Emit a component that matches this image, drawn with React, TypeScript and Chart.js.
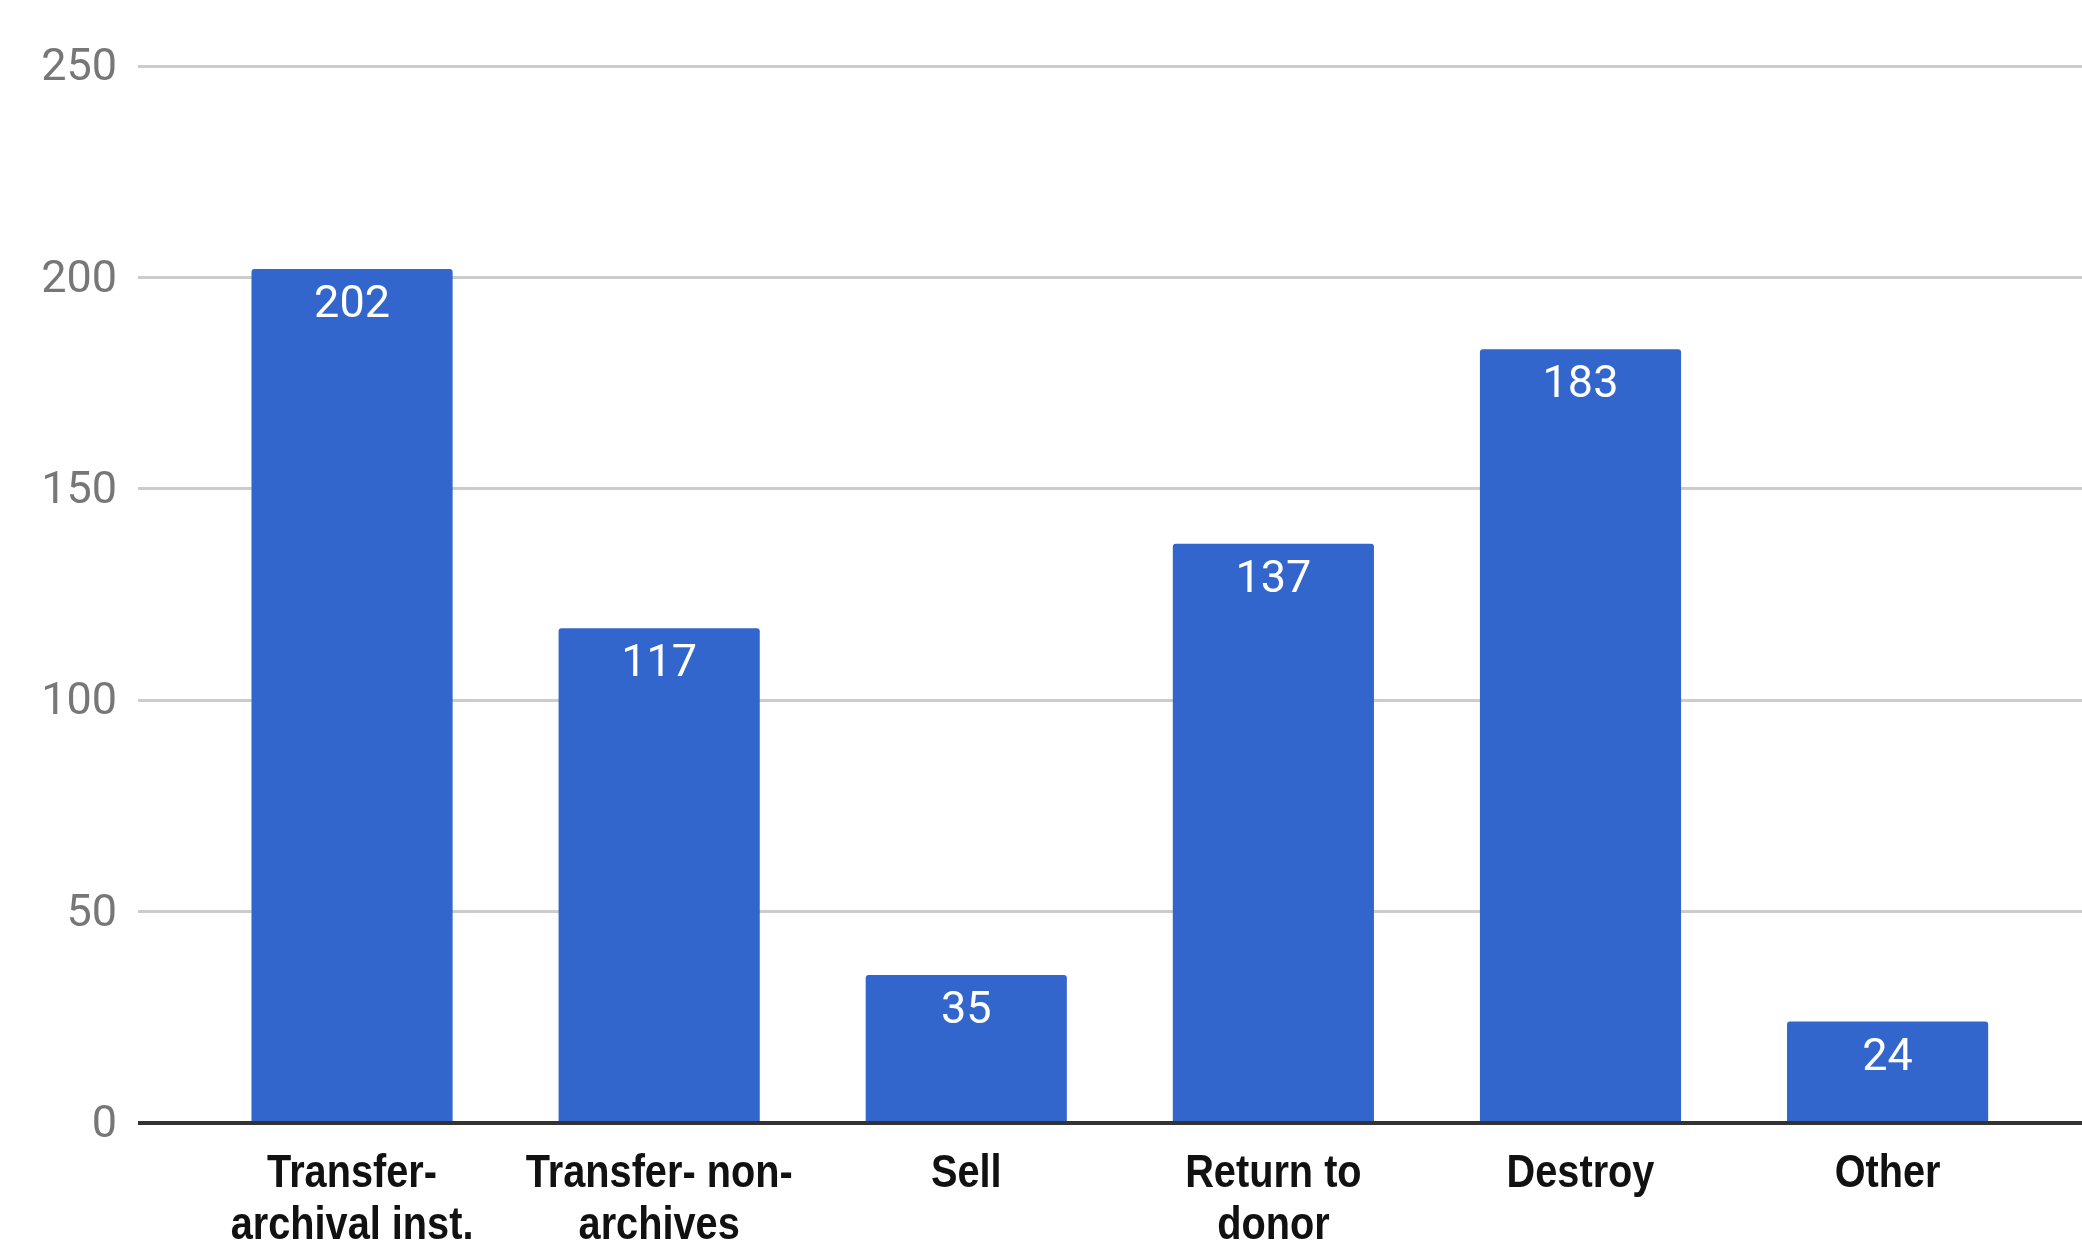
import React, { useEffect, useRef } from "react";
import { Chart, registerables } from "chart.js";

Chart.register(...registerables);

const categories = [
  "Transfer- archival inst.",
  "Transfer- non- archives",
  "Sell",
  "Return to donor",
  "Destroy",
  "Other",
];
const tickLabelLines = [
  ["Transfer-", "archival inst."],
  ["Transfer- non-", "archives"],
  ["Sell"],
  ["Return to", "donor"],
  ["Destroy"],
  ["Other"],
];
const values = [202, 117, 35, 137, 183, 24];
const yTickValues = [0, 50, 100, 150, 200, 250];

const BAR_COLOR = "#3366CC";

const valueLabelPlugin = {
  id: "valueLabels",
  afterDatasetsDraw(chart: any) {
    const ctx = chart.ctx;
    const meta = chart.getDatasetMeta(0);
    ctx.save();
    ctx.fillStyle = "#ffffff";
    ctx.font = "45px Roboto";
    ctx.textAlign = "center";
    ctx.textBaseline = "alphabetic";
    meta.data.forEach((el: any, i: number) => {
      ctx.fillText(String(values[i]), el.x, el.y + 48);
    });
    ctx.restore();
  },
};

// Category labels drawn at the x scale's tick positions, in a condensed bold face
const condensedLabelPlugin = {
  id: "condensedLabels",
  afterDraw(chart: any) {
    const ctx = chart.ctx;
    const xs = chart.scales.x;
    const top = xs.top;
    const sx = 0.845;
    ctx.save();
    ctx.fillStyle = "#111111";
    ctx.font = "bold 47px 'Liberation Sans', Arial, sans-serif";
    ctx.textAlign = "center";
    ctx.textBaseline = "alphabetic";
    categories.forEach((_, i) => {
      const px = xs.getPixelForValue(i);
      const lines = tickLabelLines[i];
      lines.forEach((line, j) => {
        ctx.save();
        ctx.translate(px, top + 64 + j * 52);
        ctx.scale(sx, 1);
        ctx.fillText(line, 0, 0);
        ctx.restore();
      });
    });
    ctx.restore();
  },
};

export default function App() {
  const ref = useRef<HTMLCanvasElement | null>(null);
  useEffect(() => {
    document.body.style.margin = "0";
    const canvas = ref.current!;
    const chart = new Chart(canvas, {
      type: "bar",
      data: {
        datasets: [
          {
            label: "Count",
            data: values.map((v, i) => ({ x: i, y: v })),
            backgroundColor: BAR_COLOR,
            borderRadius: { topLeft: 3, topRight: 3, bottomLeft: 0, bottomRight: 0 },
            borderSkipped: "start",
            categoryPercentage: 1,
            barPercentage: 0.655,
          },
        ],
      },
      options: {
        animation: false,
        responsive: true,
        maintainAspectRatio: false,
        devicePixelRatio: 1,
        layout: { padding: { top: 66, left: 0, right: 0, bottom: 0 } },
        plugins: {
          legend: { display: false },
          tooltip: { enabled: false },
          title: { display: false },
        },
        scales: {
          x: {
            type: "linear",
            min: -0.697,
            max: 5.633,
            offset: false,
            grid: { display: false, drawTicks: false },
            border: { display: false },
            afterBuildTicks: (scale: any) => {
              scale.ticks = categories.map((_, i) => ({ value: i }));
            },
            afterFit: (scale: any) => {
              scale.height = 121;
            },
            ticks: { display: false },
          },
          y: {
            min: 0,
            max: 250,
            afterBuildTicks: (scale: any) => {
              scale.ticks = yTickValues.map((v) => ({ value: v }));
            },
            afterFit: (scale: any) => {
              scale.width = 138;
            },
            border: { display: false },
            grid: {
              drawTicks: false,
              lineWidth: (c: any) => (c.tick && c.tick.value === 0 ? 4 : 3),
              color: (c: any) => (c.tick && c.tick.value === 0 ? "#333333" : "#cccccc"),
            },
            ticks: {
              padding: 21,
              labelOffset: 3,
              color: "#777777",
              font: { family: "Roboto", size: 45 },
            },
          },
        },
      },
      plugins: [valueLabelPlugin, condensedLabelPlugin],
    });
    return () => chart.destroy();
  }, []);

  return (
    <div style={{ width: 2082, height: 1244, position: "relative" }}>
      <canvas ref={ref} />
    </div>
  );
}
